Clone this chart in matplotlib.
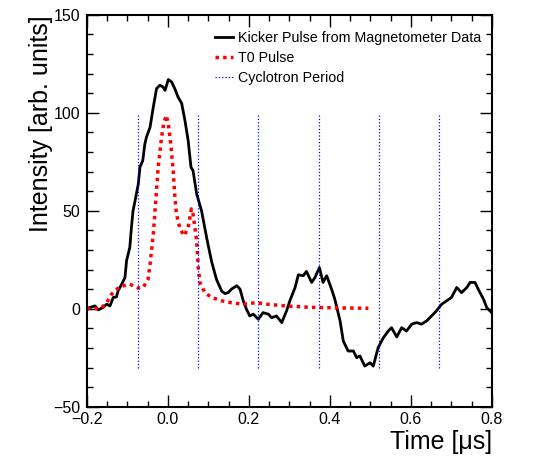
# Kicker pulse vs T0 pulse with cyclotron period markers
import matplotlib.pyplot as plt

plt.rcParams["font.family"] = ["Liberation Sans", "DejaVu Sans"]

# ---------- Data ----------
kick_t = [-0.198, -0.180, -0.172, -0.160, -0.151, -0.143, -0.135, -0.127, -0.123,
          -0.114, -0.106, -0.102, -0.094, -0.090, -0.086, -0.081, -0.073, -0.069,
          -0.062, -0.057, -0.053, -0.044, -0.036, -0.028, -0.020, -0.012, -0.007,
          0.001, 0.009, 0.017, 0.025, 0.034, 0.042, 0.050, 0.057, 0.062, 0.071,
          0.083, 0.096, 0.108, 0.120, 0.133, 0.141, 0.149, 0.157, 0.170, 0.178,
          0.186, 0.194, 0.202, 0.211, 0.223, 0.235, 0.248, 0.256, 0.268, 0.281,
          0.293, 0.301, 0.314, 0.322, 0.334, 0.342, 0.355, 0.363, 0.374, 0.383,
          0.392, 0.404, 0.412, 0.425, 0.433, 0.445, 0.458, 0.466, 0.474, 0.486,
          0.499, 0.507, 0.519, 0.532, 0.544, 0.552, 0.565, 0.577, 0.589, 0.602,
          0.614, 0.626, 0.639, 0.651, 0.663, 0.676, 0.688, 0.700, 0.713, 0.725,
          0.738, 0.746, 0.758, 0.766, 0.779, 0.787, 0.799]
kick_y = [0.4, 1.5, -0.5, 0.7, 2.4, 1.5, 5.8, 6.1, 9.2,
          12.6, 16.0, 24.6, 31.4, 41.6, 50.1, 55.2, 63.8, 72.3,
          75.7, 84.0, 87.6, 92.7, 103.0, 112.4, 114.1, 113.2, 111.5,
          117.0, 115.8, 112.4, 108.1, 104.9, 96.2, 85.9, 72.3, 70.6, 58.7,
          50.1, 36.0, 24.0, 15.0, 9.0, 7.8, 8.3, 10.1, 11.8, 10.1,
          4.1, -0.2, -3.6, -2.7, -5.3, -1.9, -2.7, -4.5, -3.6, -7.0,
          -1.0, 4.1, 10.9, 17.4, 16.9, 19.1, 13.5, 16.0, 21.1, 13.5,
          16.9, 10.1, 5.0, -6.1, -16.4, -21.5, -21.5, -24.9, -24.0, -29.2,
          -27.5, -29.2, -19.8, -14.7, -11.3, -9.6, -14.3, -9.6, -11.3, -7.8,
          -7.0, -7.8, -6.1, -3.6, -1.0, 2.4, 4.1, 5.8, 10.9, 8.3,
          10.9, 13.5, 13.5, 10.1, 5.0, 0.7, -1.9]

t0_t = [-0.200, -0.165, -0.151, -0.139, -0.119, -0.094, -0.073, -0.061, -0.049,
        -0.044, -0.036, -0.030, -0.024, -0.016, -0.010, -0.004, 0.001, 0.007,
        0.013, 0.017, 0.021, 0.030, 0.040, 0.050, 0.058, 0.062, 0.071, 0.075,
        0.079, 0.091, 0.108, 0.133, 0.160, 0.186, 0.219, 0.244, 0.290, 0.350,
        0.420, 0.495]
t0_y = [0.0, 0.3, 3.2, 7.5, 11.3, 12.6, 10.6, 10.9, 15.2,
        22.9, 38.2, 55.2, 72.3, 87.0, 95.0, 98.7, 94.5, 84.2,
        70.6, 58.0, 48.4, 40.8, 37.3, 41.6, 51.0, 48.4, 34.8, 21.1,
        13.5, 8.3, 5.8, 4.1, 3.0, 2.4, 3.2, 2.4, 1.5, 0.8,
        0.5, 0.3]

cyc_t = [-0.075, 0.074, 0.223, 0.373, 0.521, 0.669]
cyc_ymin, cyc_ymax = -30, 100

# ---------- Figure ----------
fig = plt.figure(figsize=(5.33, 4.65), dpi=100)
ax = fig.add_axes([0.163, 0.125, 0.760, 0.843])

ax.plot(kick_t, kick_y, color="black", lw=2.0,
        label="Kicker Pulse from Magnetometer Data")
ax.plot(t0_t, t0_y, color="#ff0000", lw=2.5, linestyle=(0, (1, 1.2)),
        label="T0 Pulse")
ax.vlines(cyc_t, cyc_ymin, cyc_ymax, color="#0000ff", lw=0.9,
          linestyle=":", label="Cyclotron Period")

ax.set_xlim(-0.2, 0.8)
ax.set_ylim(-50, 150)
ax.set_xticks([-0.2, 0.0, 0.2, 0.4, 0.6, 0.8])
ax.set_xticklabels(["\u22120.2", "0.0", "0.2", "0.4", "0.6", "0.8"])
ax.set_xticks([x / 100 for x in range(-20, 81, 5)], minor=True)
ax.set_yticks([-50, 0, 50, 100, 150])
ax.set_yticklabels(["\u221250", "0", "50", "100", "150"])
ax.set_yticks(list(range(-50, 151, 10)), minor=True)

ax.tick_params(which="both", direction="in", top=True, right=True,
               labelsize=11.5)
ax.tick_params(axis="y", which="major", pad=5)
ax.tick_params(which="major", length=8.5, width=1)
ax.tick_params(which="minor", length=4.5, width=1)
for s in ax.spines.values():
    s.set_linewidth(1.5)

ax.set_xlabel("Time [\u03bcs]", fontsize=18, loc="right", labelpad=2)
ax.set_ylabel("Intensity [arb. units]", fontsize=18, loc="top", labelpad=0)

ax.legend(loc="upper left", bbox_to_anchor=(0.316, 0.960), frameon=False,
          fontsize=10.3, borderpad=0, borderaxespad=0, handlelength=1.3,
          handletextpad=0.3, labelspacing=0.42)

fig.savefig("out.png", dpi=100)
